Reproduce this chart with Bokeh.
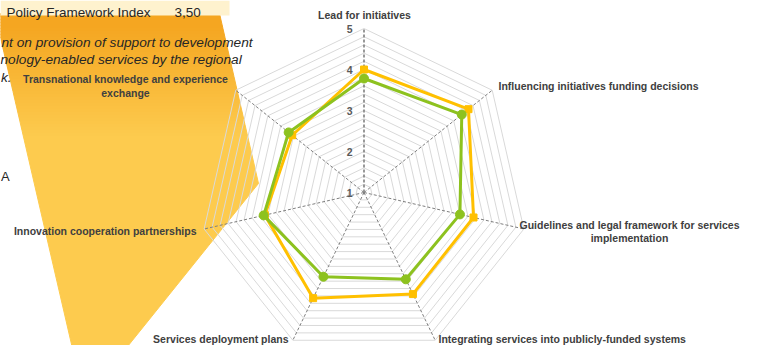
import numpy as np
from bokeh.plotting import figure
from bokeh.models import Range1d
from bokeh.core.properties import value
from bokeh.embed import file_html
from bokeh.resources import INLINE

# ---------------- data ----------------
categories = [
    "Lead for initiatives",
    "Influencing initiatives funding decisions",
    "Guidelines and legal framework for services\nimplementation",
    "Integrating services into publicly-funded systems",
    "Services deployment plans",
    "Innovation cooperation partnerships",
    "Transnational knowledge and experience\nexchange",
]
series_yellow = [4.00, 4.26, 3.74, 3.75, 3.86, 3.48, 3.24]
series_green = [3.78, 4.05, 3.40, 3.35, 3.28, 3.51, 3.35]
tick_values = [1, 2, 3, 4, 5]
tick_labels = ["1", "2", "3", "4", "5"]
index_label = "Policy Framework Index"
index_value = "3,50"
grid_step = 0.2
vmin, vmax = 1.0, 5.0

# ---------------- layout (pixel space of the picture) ----------------
FW, FH = 741, 345           # figure size that fits the window
CX, CY, R = 363.5, 192.0, 164.0


def X(px):
    return (px - CX) / R


def Y(py):
    return (CY - py) / R


n = len(categories)
theta = np.pi / 2 - 2 * np.pi * np.arange(n) / n


def radial(v):
    return (np.asarray(v, dtype=float) - vmin) / (vmax - vmin)


p = figure(width=FW, height=FH, output_backend="svg",
           toolbar_location=None,
           x_range=Range1d(X(0), X(FW)), y_range=Range1d(Y(FH), Y(0)),
           min_border=0, outline_line_color=None,
           background_fill_color="white", border_fill_color="white")
p.axis.visible = False
p.grid.visible = False

FONT = value("Liberation Sans")

# ---------------- background slide decoration ----------------
poly = [(0, 13), (219, 13), (258, 183), (115, 361), (75, 361), (0, 37)]


def clip(pts_in, y0, y1):
    def clip_half(pts, keep, inter):
        out = []
        for i in range(len(pts)):
            a, b = pts[i - 1], pts[i]
            ka, kb = keep(a), keep(b)
            if kb:
                if not ka:
                    out.append(inter(a, b))
                out.append(b)
            elif ka:
                out.append(inter(a, b))
        return out

    def iy(yc):
        def f(a, b):
            t = (yc - a[1]) / (b[1] - a[1])
            return (a[0] + t * (b[0] - a[0]), yc)
        return f

    pts = clip_half(pts_in, lambda q: q[1] >= y0, iy(y0))
    if pts:
        pts = clip_half(pts, lambda q: q[1] <= y1, iy(y1))
    return pts


c_top = np.array([245, 166, 33])
c_bot = np.array([253, 203, 78])


def grad(py):
    t = min(max((py - 25) / 110.0, 0), 1)
    c = (c_top + t * (c_bot - c_top)).astype(int)
    return "#%02x%02x%02x" % tuple(c)


bxs, bys, bcs = [], [], []
edges = list(np.arange(13, 141, 3)) + [361]
for y0, y1 in zip(edges[:-1], edges[1:]):
    pts = clip(poly, y0, y1)
    if len(pts) >= 3:
        bxs.append([X(q[0]) for q in pts])
        bys.append([Y(q[1]) for q in pts])
        bcs.append(grad((y0 + y1) / 2))
p.patches(bxs, bys, fill_color=bcs, line_color=bcs, line_width=1)

# light box with the index value
p.quad(left=X(0), right=X(229), top=Y(0), bottom=Y(15),
       fill_color="#FEF2CE", line_color=None)
p.text(x=[X(6), X(174)], y=[Y(11.5), Y(11.5)],
       text=[index_label, index_value],
       text_font=FONT, text_font_size="13.5px", text_color="#262626",
       text_baseline="alphabetic", text_align="left")

p.text(x=[X(1), X(0), X(0.5)], y=[Y(42), Y(59), Y(77)],
       text=["nt on provision of support to development",
             "nology-enabled services by the regional", "k."],
       text_font=FONT, text_font_size="13.7px", text_font_style="italic",
       text_color="#262626", text_baseline="middle", text_align="left")
p.text(x=[X(0.5)], y=[Y(176)], text=["A"], text_font=FONT,
       text_font_size="13px", text_color="#262626",
       text_baseline="alphabetic", text_align="left")

# ---------------- radar grid ----------------
levels = np.arange(vmin + grid_step, vmax + 1e-9, grid_step)
gx, gy = [], []
for v in levels:
    r = radial(v)
    gx.append(list(r * np.cos(theta)) + [r * np.cos(theta[0])])
    gy.append(list(r * np.sin(theta)) + [r * np.sin(theta[0])])
p.multi_line(gx, gy, line_color="#D9D9D9", line_width=1)

sx = [[0, np.cos(t)] for t in theta[1:]]
sy = [[0, np.sin(t)] for t in theta[1:]]
p.multi_line(sx, sy, line_color="#7F7F7F", line_width=1, line_dash="3 2")
p.line([0, np.cos(theta[0])], [0, np.sin(theta[0])], line_color="#7F7F7F",
       line_width=1.6, line_dash="3 2")

# value-axis tick labels along the first spoke
p.text(x=[X(352)] * len(tick_values), y=list(radial(tick_values)),
       text=tick_labels, text_font=FONT, text_font_size="10.5px",
       text_font_style="bold", text_color="#595959",
       text_align="right", text_baseline="middle")


# ---------------- series ----------------
def xy(vals):
    r = radial(vals)
    return list(r * np.cos(theta)), list(r * np.sin(theta))


yx, yy = xy(series_yellow)
p.line(yx + yx[:1], yy + yy[:1], line_color="#FFC000", line_width=3)
p.scatter(yx, yy, marker="square", size=7, fill_color="#FFC000",
          line_color="#FFC000")

gxs, gys = xy(series_green)
p.line(gxs + gxs[:1], gys + gys[:1], line_color="#8DC21F", line_width=3)
p.scatter(gxs, gys, marker="circle", size=9, fill_color="#8DC21F",
          line_color="#8DC21F")

# ---------------- category labels ----------------
label_pos = [
    (364, 14, "center"),
    (498, 85, "left"),
    (629, 231, "center"),
    (438, 338.5, "left"),
    (288, 338.5, "right"),
    (196, 230, "right"),
    (125, 85.5, "center"),
]
for (lx, ly, al), txt in zip(label_pos, categories):
    p.text(x=[X(lx)], y=[Y(ly)], text=[txt], text_font=FONT,
           text_font_size="10.5px", text_font_style="bold",
           text_color="#404040", text_align=al, text_baseline="middle",
           text_line_height=1.12)

open("out.html", "w").write(file_html(p, INLINE))
